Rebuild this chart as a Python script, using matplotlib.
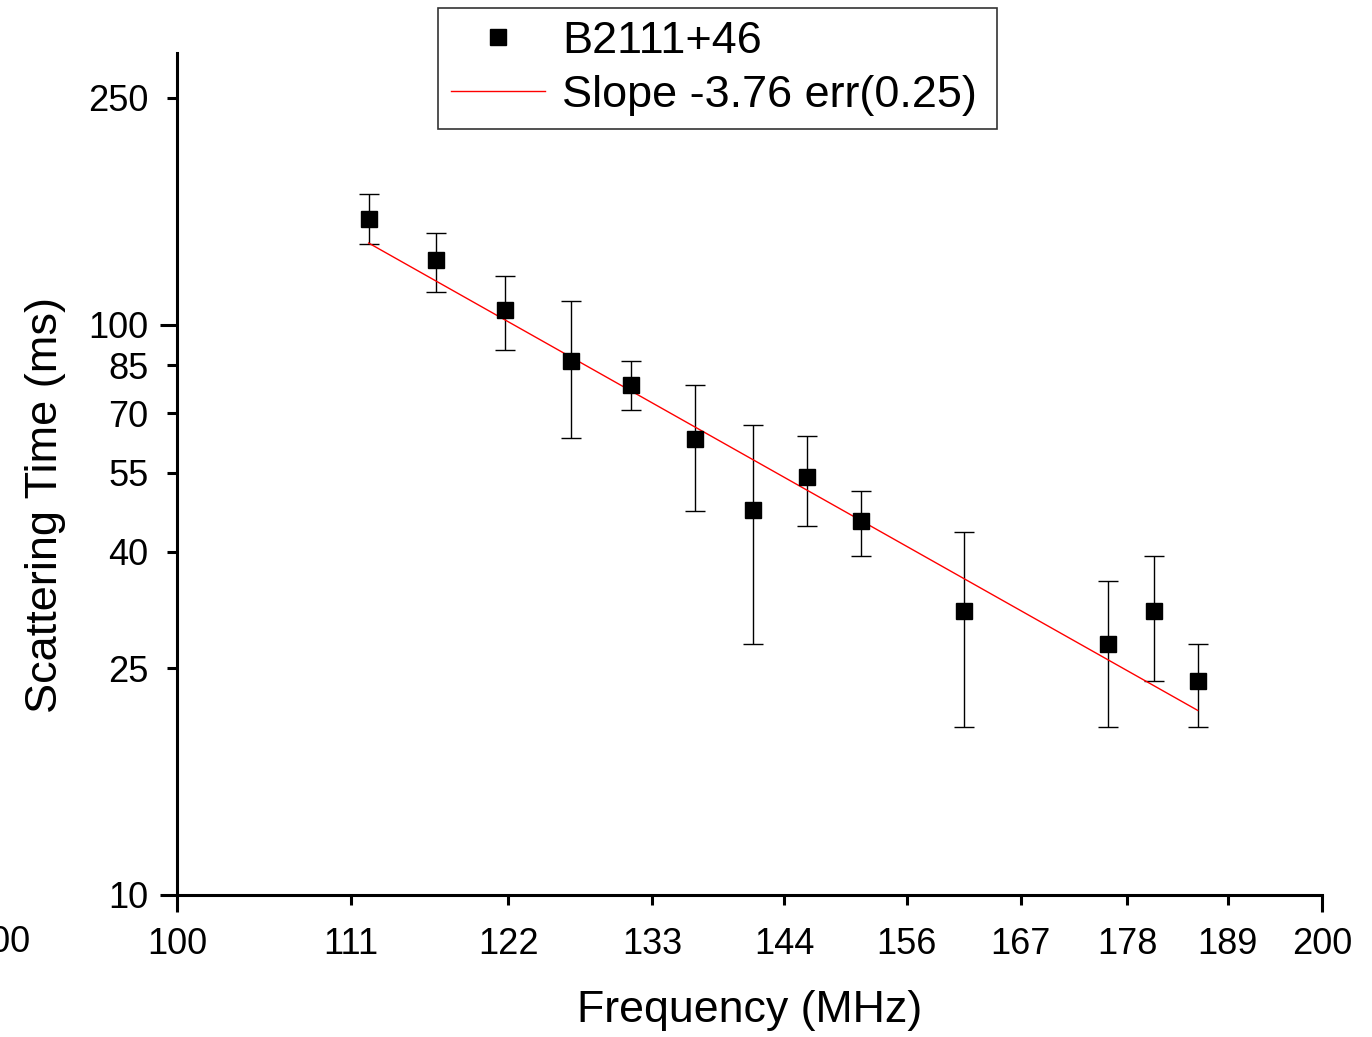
import numpy as np
import matplotlib.pyplot as plt
from matplotlib.ticker import FixedLocator, FixedFormatter

plt.rcParams['font.family'] = ['Liberation Sans', 'DejaVu Sans']

# scattering time measurements for B2111+46
freq_mhz = [112.3, 117.0, 122.0, 126.9, 131.6, 136.8, 141.7, 146.4, 151.3, 161.0, 175.7, 180.7, 185.5]
tau_ms = [153.2, 129.9, 106.2, 86.5, 78.5, 63.0, 47.3, 54.0, 45.2, 31.5, 27.6, 31.5, 23.7]
tau_hi = [169.5, 144.8, 121.8, 110.1, 86.5, 78.5, 66.6, 63.7, 51.1, 43.3, 35.5, 39.3, 27.6]
tau_lo = [138.6, 114.2, 90.4, 63.2, 71.0, 47.1, 27.6, 44.4, 39.3, 19.7, 19.7, 23.7, 19.7]

# power-law fit
slope = -3.76
slope_err = 0.25
fit_ref_freq = 112.3
fit_ref_tau = 139.1

x_major = [100, 200]
x_minor = list(np.linspace(100, 200, 10)[1:-1])
x_minor_labels = ['111', '122', '133', '144', '156', '167', '178', '189']
y_major = [10, 100]
y_minor = [25, 40, 55, 70, 85, 250]

freq = np.array(freq_mhz)
tau = np.array(tau_ms)
yerr = np.vstack([tau - np.array(tau_lo), np.array(tau_hi) - tau])

fig = plt.figure(figsize=(13.72, 10.37), dpi=100)
ax = fig.add_axes([177/1372, 1 - 895/1037, (1322 - 177)/1372, (895 - 52.7)/1037])

ax.errorbar(freq, tau, yerr=yerr, fmt='none', ecolor='black', elinewidth=1.0,
            capsize=7, capthick=1.0, zorder=2)
sq, = ax.plot(freq, tau, 's', color='black', markersize=12.2, zorder=3, label='B2111+46')

f_line = np.linspace(freq.min(), freq.max(), 50)
t_line = fit_ref_tau * (f_line / fit_ref_freq) ** slope
ln, = ax.plot(f_line, t_line, color='red', linewidth=1.0, zorder=2,
              label=f'Slope {slope} err({slope_err})')

ax.set_xscale('log')
ax.set_yscale('log')
ax.set_xlim(100, 200)
ax.set_ylim(10, 300)

ax.xaxis.set_major_locator(FixedLocator(x_major))
ax.xaxis.set_major_formatter(FixedFormatter([str(v) for v in x_major]))
ax.xaxis.set_minor_locator(FixedLocator(x_minor))
ax.xaxis.set_minor_formatter(FixedFormatter(x_minor_labels))
ax.yaxis.set_major_locator(FixedLocator(y_major))
ax.yaxis.set_major_formatter(FixedFormatter([str(v) for v in y_major]))
ax.yaxis.set_minor_locator(FixedLocator(y_minor))
ax.yaxis.set_minor_formatter(FixedFormatter([str(v) for v in y_minor]))

ax.tick_params(which='major', direction='out', length=12.5, width=2.2, labelsize=26)
ax.tick_params(which='minor', direction='out', length=7.2, width=2.2, labelsize=26)
ax.tick_params(axis='x', which='major', pad=10.5)
ax.tick_params(axis='x', which='minor', pad=15.8)
ax.tick_params(axis='y', which='major', pad=8)
ax.tick_params(axis='y', which='minor', pad=13.3)

for s in ['top', 'right']:
    ax.spines[s].set_visible(False)
for s in ['left', 'bottom']:
    ax.spines[s].set_linewidth(2.2)

ax.set_xlabel('Frequency (MHz)', fontsize=32.2, labelpad=20)
ax.set_ylabel('Scattering Time (ms)', fontsize=32.5)
ax.yaxis.set_label_coords(-0.097, 0.4636)

# stray tick label cut off at the left edge
fig.text(0, 1 - 942/1037, '100', fontsize=26, ha='center', va='center')

leg = fig.legend(handles=[sq, ln], loc='upper left',
                 bbox_to_anchor=(438/1372, 1 - 8/1037 - 0.2, 559/1372, 0.2), mode='expand',
                 fontsize=32.4, frameon=True, fancybox=False, edgecolor='black',
                 borderaxespad=0, handlelength=2.1, handletextpad=0.38, markerscale=0.9,
                 borderpad=0.28, labelspacing=0.3)
leg.get_frame().set_linewidth(1.2)

fig.savefig('out.png', dpi=100)
